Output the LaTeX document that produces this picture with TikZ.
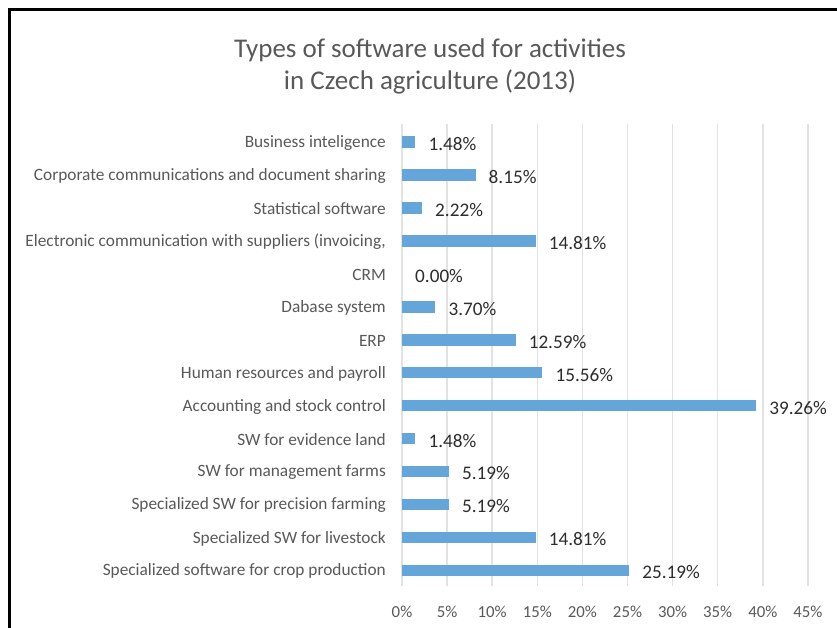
\documentclass[tikz,border=0pt]{standalone}
\usepackage{fontspec}
\setmainfont{Carlito}
\definecolor{barblue}{RGB}{100,165,218}
\definecolor{gridgray}{RGB}{226,226,226}
\definecolor{labgray}{RGB}{89,89,89}
\definecolor{valgray}{RGB}{45,45,45}
\tikzset{
  catlabel/.style={anchor=east,inner sep=0pt,text=labgray,font=\fontsize{17.3}{20}\selectfont},
  vallabel/.style={anchor=west,inner sep=0pt,text=valgray,font=\fontsize{19.2}{22}\selectfont},
  ticklabel/.style={anchor=center,inner sep=0pt,text=labgray,font=\fontsize{16.8}{20}\selectfont},
  gridline/.style={draw=gridgray,line width=1.5pt},
  barrect/.style={fill=barblue,draw=none},
  frameline/.style={draw=black,line width=2.8pt}
}
\begin{document}
\begin{tikzpicture}[x=1pt,y=-1pt]
\useasboundingbox[fill=white] (0,0) rectangle (837,628);
% frame
\draw[frameline] (9.8,628) -- (9.8,9.5) -- (837,9.5);
% title
\node[text=labgray,font=\fontsize{27}{32}\selectfont,align=center,inner sep=0pt] (title) at (430,66) {Types of software used for activities\\in Czech agriculture (2013)};
% grid
\foreach \k in {0,...,9}{
  \pgfmathsetmacro{\gx}{402+45.1*\k}
  \draw[gridline] (\gx,124) -- (\gx,586);
  \pgfmathtruncatemacro{\pc}{5*\k}
  \node[ticklabel] (tick\k) at (\gx,612) {\pc\%};
}
% bars
\foreach \i/\v/\lab/\txt in {
 0/1.48/Business inteligence/1.48\%,
 1/8.15/Corporate communications and document sharing/8.15\%,
 2/2.22/Statistical software/2.22\%,
 3/14.81/{Electronic communication with suppliers (invoicing,}/14.81\%,
 4/0/CRM/0.00\%,
 5/3.70/Dabase system/3.70\%,
 6/12.59/ERP/12.59\%,
 7/15.56/Human resources and payroll/15.56\%,
 8/39.26/Accounting and stock control/39.26\%,
 9/1.48/SW for evidence land/1.48\%,
 10/5.19/SW for management farms/5.19\%,
 11/5.19/Specialized SW for precision farming/5.19\%,
 12/14.81/Specialized SW for livestock/14.81\%,
 13/25.19/Specialized software for crop production/25.19\%}{
  \pgfmathsetmacro{\yc}{142+32.95*\i}
  \pgfmathsetmacro{\xe}{402+9.02*\v}
  \ifdim\v pt>0pt
    \fill[barrect] (402,\yc-5.8) rectangle (\xe,\yc+5.8);
  \fi
  \node[catlabel] (cat\i) at (386,\yc+1) {\lab};
  \node[vallabel] (val\i) at (\xe+13,\yc+2) {\txt};
}
\end{tikzpicture}
\end{document}
